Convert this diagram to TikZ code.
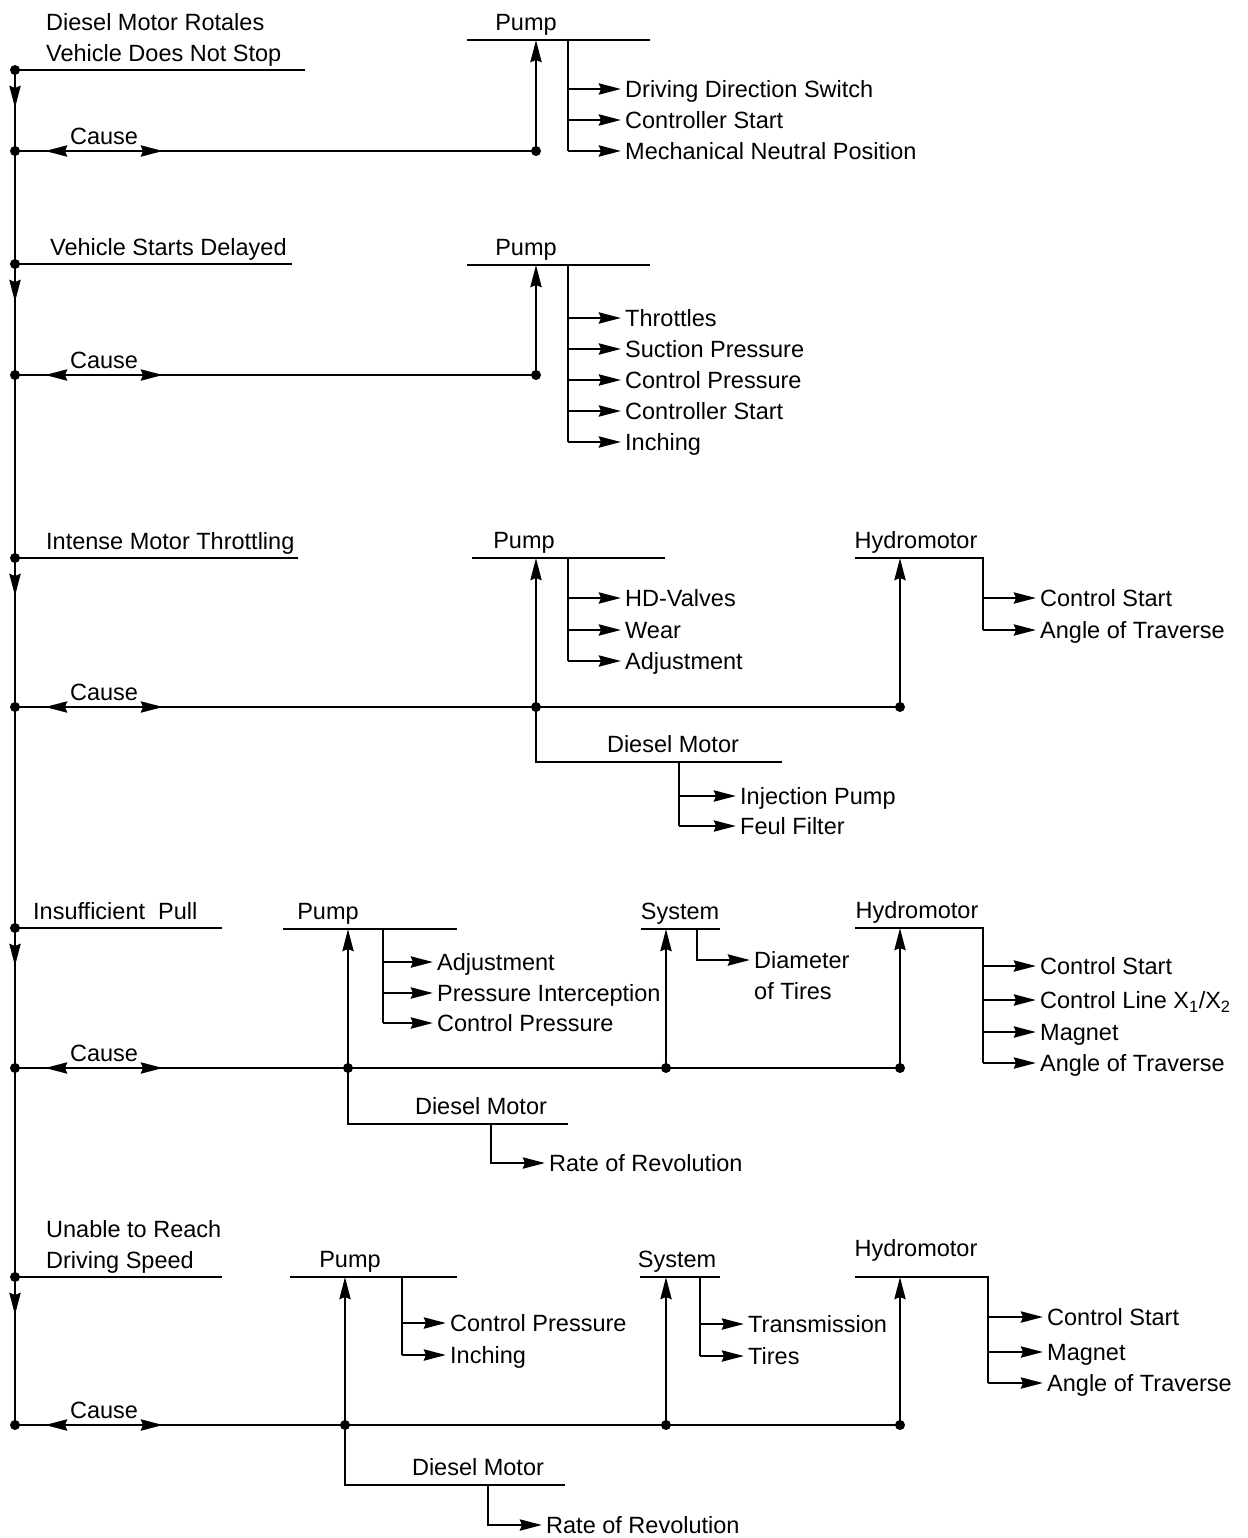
\documentclass[tikz,border=0pt]{standalone}
\usepackage{fontspec}
\setmainfont{Liberation Sans}
\usetikzlibrary{arrows.meta, positioning, decorations.markings}
\tikzset{
  >={Stealth[length=22pt, width=11pt, inset=2pt]},
  wire/.style={line width=2.8pt},
  arrow/.style={wire, ->},
  downline/.style={wire, postaction={decorate}, decoration={markings, mark=at position 38pt with {\arrow{>}}}},
  causeline/.style={wire, postaction={decorate}, decoration={markings, mark=at position 30pt with {\arrowreversed{>}}, mark=at position 148pt with {\arrow{>}}}},
  dot/.style={circle, fill=black, inner sep=0pt, minimum size=10pt},
  txt/.style={text height=17pt, text depth=0pt},
  problem/.style={txt, anchor=south west, inner xsep=0pt, inner ysep=8pt},
  headtext/.style={txt, anchor=south, inner xsep=0pt, inner ysep=9pt},
  causetext/.style={txt, anchor=south, inner xsep=0pt, inner ysep=6.5pt},
  item/.style={txt, anchor=west, inner xsep=4pt, inner ysep=0pt}
}
\begin{document}
\begin{tikzpicture}[x=1pt, y=-1pt, every node/.style={font=\fontsize{23.5}{31}\selectfont}]
\useasboundingbox (0,0) rectangle (1247,1538);

% Diesel Motor Rotales
\node (s1) [dot] at (15,70) {};
\node (c1) [dot] at (15,151) {};
\node (dp1) [dot] at (536,151) {};
\node (prob1) [problem] at (46,70) {\begin{tabular}[b]{@{}l@{}}Diesel Motor Rotales\\Vehicle Does Not Stop\end{tabular}};
\node (cause1) [causetext] at (104,151) {Cause};
\node (pump1) [headtext] at (526,40) {Pump};
\coordinate (b1) at (568,40);
\node (i11) [item] at (621,89) {Driving Direction Switch};
\node (i12) [item] at (621,120) {Controller Start};
\node (i13) [item] at (621,151) {Mechanical Neutral Position};

\draw [wire] (s1.center) -- (305,70);
\draw [downline] (s1.center) -- (c1.center);
\draw [causeline] (c1.center) -- (dp1.center);
\draw [arrow] (dp1.center) -- (dp1 |- b1);
\draw [wire] (467,40) -- (650,40);
\draw [wire] (b1) -- (b1 |- i13);
\draw [arrow] (b1 |- i11) -- (i11);
\draw [arrow] (b1 |- i12) -- (i12);
\draw [arrow] (b1 |- i13) -- (i13);

% Vehicle Starts Delayed
\node (s2) [dot] at (15,264) {};
\node (c2) [dot] at (15,375) {};
\node (dp2) [dot] at (536,375) {};
\node (prob2) [problem] at (50,264) {Vehicle Starts Delayed};
\node (cause2) [causetext] at (104,375) {Cause};
\node (pump2) [headtext] at (526,265) {Pump};
\coordinate (b2) at (568,265);
\node (i21) [item] at (621,318) {Throttles};
\node (i22) [item] at (621,349) {Suction Pressure};
\node (i23) [item] at (621,380) {Control Pressure};
\node (i24) [item] at (621,411) {Controller Start};
\node (i25) [item] at (621,442) {Inching};

\draw [wire] (c1.center) -- (s2.center);
\draw [wire] (s2.center) -- (292,264);
\draw [downline] (s2.center) -- (c2.center);
\draw [causeline] (c2.center) -- (dp2.center);
\draw [arrow] (dp2.center) -- (dp2 |- b2);
\draw [wire] (467,265) -- (650,265);
\draw [wire] (b2) -- (b2 |- i25);
\draw [arrow] (b2 |- i21) -- (i21);
\draw [arrow] (b2 |- i22) -- (i22);
\draw [arrow] (b2 |- i23) -- (i23);
\draw [arrow] (b2 |- i24) -- (i24);
\draw [arrow] (b2 |- i25) -- (i25);

% Intense Motor Throttling
\node (s3) [dot] at (15,558) {};
\node (c3) [dot] at (15,707) {};
\node (dp3) [dot] at (536,707) {};
\node (dh3) [dot] at (900,707) {};
\node (prob3) [problem] at (46,558) {Intense Motor Throttling};
\node (cause3) [causetext] at (104,707) {Cause};
\node (pump3) [headtext] at (524,558) {Pump};
\coordinate (b3) at (568,558);
\node (i31) [item] at (621,598) {HD-Valves};
\node (i32) [item] at (621,630) {Wear};
\node (i33) [item] at (621,661) {Adjustment};
\node (diesel3) [headtext] at (673,762) {Diesel Motor};
\coordinate (b3d) at (679,762);
\node (i3d1) [item] at (736,796) {Injection Pump};
\node (i3d2) [item] at (736,826) {Feul Filter};
\node (hydro3) [headtext] at (916,558) {Hydromotor};
\coordinate (b3h) at (983,558);
\node (i3h1) [item] at (1036,598) {Control Start};
\node (i3h2) [item] at (1036,630) {Angle of Traverse};

\draw [wire] (c2.center) -- (s3.center);
\draw [wire] (s3.center) -- (298,558);
\draw [downline] (s3.center) -- (c3.center);
\draw [causeline] (c3.center) -- (dh3.center);
\draw [arrow] (dp3.center) -- (dp3 |- b3);
\draw [wire] (472,558) -- (665,558);
\draw [wire] (b3) -- (b3 |- i33);
\draw [arrow] (b3 |- i31) -- (i31);
\draw [arrow] (b3 |- i32) -- (i32);
\draw [arrow] (b3 |- i33) -- (i33);
\draw [wire] (dp3.center) |- (782,762);
\draw [wire] (b3d) -- (b3d |- i3d2);
\draw [arrow] (b3d |- i3d1) -- (i3d1);
\draw [arrow] (b3d |- i3d2) -- (i3d2);
\draw [arrow] (dh3.center) -- (dh3 |- b3h);
\draw [wire] (855,558) -- (b3h) -- (b3h |- i3h2);
\draw [arrow] (b3h |- i3h1) -- (i3h1);
\draw [arrow] (b3h |- i3h2) -- (i3h2);

% Insufficient Pull
\node (s4) [dot] at (15,928) {};
\node (c4) [dot] at (15,1068) {};
\node (dp4) [dot] at (348,1068) {};
\node (ds4) [dot] at (666,1068) {};
\node (dh4) [dot] at (900,1068) {};
\node (prob4) [problem] at (33,928) {Insufficient\ \ Pull};
\node (cause4) [causetext] at (104,1068) {Cause};
\node (pump4) [headtext] at (328,929) {Pump};
\coordinate (b4) at (383,929);
\node (i41) [item] at (433,962) {Adjustment};
\node (i42) [item] at (433,993) {Pressure Interception};
\node (i43) [item] at (433,1023) {Control Pressure};
\node (diesel4) [headtext] at (481,1124) {Diesel Motor};
\coordinate (b4d) at (491,1124);
\node (i4d1) [item] at (545,1163) {Rate of Revolution};
\node (system4) [headtext] at (680,929) {System};
\coordinate (b4s) at (697,929);
\node (i4s1) [item] at (750,960) {\begin{tabular}[t]{@{}l@{}}Diameter\\of Tires\end{tabular}};
\node (hydro4) [headtext] at (917,928) {Hydromotor};
\coordinate (b4h) at (983,928);
\node (i4h1) [item] at (1036,966) {Control Start};
\node (i4h2) [item] at (1036,1000) {Control Line X\textsubscript{1}/X\textsubscript{2}};
\node (i4h3) [item] at (1036,1032) {Magnet};
\node (i4h4) [item] at (1036,1063) {Angle of Traverse};

\draw [wire] (c3.center) -- (s4.center);
\draw [wire] (s4.center) -- (222,928);
\draw [downline] (s4.center) -- (c4.center);
\draw [causeline] (c4.center) -- (dh4.center);
\draw [arrow] (dp4.center) -- (dp4 |- b4);
\draw [wire] (283,929) -- (457,929);
\draw [wire] (b4) -- (b4 |- i43);
\draw [arrow] (b4 |- i41) -- (i41);
\draw [arrow] (b4 |- i42) -- (i42);
\draw [arrow] (b4 |- i43) -- (i43);
\draw [wire] (dp4.center) |- (568,1124);
\draw [arrow] (b4d) |- (i4d1);
\draw [arrow] (ds4.center) -- (ds4 |- b4s);
\draw [wire] (641,929) -- (720,929);
\draw [arrow] (b4s) |- (i4s1);
\draw [arrow] (dh4.center) -- (dh4 |- b4h);
\draw [wire] (855,928) -- (b4h) -- (b4h |- i4h4);
\draw [arrow] (b4h |- i4h1) -- (i4h1);
\draw [arrow] (b4h |- i4h2) -- (i4h2);
\draw [arrow] (b4h |- i4h3) -- (i4h3);
\draw [arrow] (b4h |- i4h4) -- (i4h4);

% Unable to Reach Driving Speed
\node (s5) [dot] at (15,1277) {};
\node (c5) [dot] at (15,1425) {};
\node (dp5) [dot] at (345,1425) {};
\node (ds5) [dot] at (666,1425) {};
\node (dh5) [dot] at (900,1425) {};
\node (prob5) [problem] at (46,1277) {\begin{tabular}[b]{@{}l@{}}Unable to Reach\\Driving Speed\end{tabular}};
\node (cause5) [causetext] at (104,1425) {Cause};
\node (pump5) [headtext] at (350,1277) {Pump};
\coordinate (b5) at (402,1277);
\node (i51) [item] at (446,1323) {Control Pressure};
\node (i52) [item] at (446,1355) {Inching};
\node (diesel5) [headtext] at (478,1485) {Diesel Motor};
\coordinate (b5d) at (488,1485);
\node (i5d1) [item] at (542,1525) {Rate of Revolution};
\node (system5) [headtext] at (677,1277) {System};
\coordinate (b5s) at (700,1277);
\node (i5s1) [item] at (744,1324) {Transmission};
\node (i5s2) [item] at (744,1356) {Tires};
\node (hydro5) [headtext, inner ysep=20pt] at (916,1277) {Hydromotor};
\coordinate (b5h) at (988,1277);
\node (i5h1) [item] at (1043,1317) {Control Start};
\node (i5h2) [item] at (1043,1352) {Magnet};
\node (i5h3) [item] at (1043,1383) {Angle of Traverse};

\draw [wire] (c4.center) -- (s5.center);
\draw [wire] (s5.center) -- (222,1277);
\draw [downline] (s5.center) -- (c5.center);
\draw [causeline] (c5.center) -- (dh5.center);
\draw [arrow] (dp5.center) -- (dp5 |- b5);
\draw [wire] (290,1277) -- (457,1277);
\draw [wire] (b5) -- (b5 |- i52);
\draw [arrow] (b5 |- i51) -- (i51);
\draw [arrow] (b5 |- i52) -- (i52);
\draw [wire] (dp5.center) |- (565,1485);
\draw [arrow] (b5d) |- (i5d1);
\draw [arrow] (ds5.center) -- (ds5 |- b5s);
\draw [wire] (640,1277) -- (720,1277);
\draw [wire] (b5s) -- (b5s |- i5s2);
\draw [arrow] (b5s |- i5s1) -- (i5s1);
\draw [arrow] (b5s |- i5s2) -- (i5s2);
\draw [arrow] (dh5.center) -- (dh5 |- b5h);
\draw [wire] (855,1277) -- (b5h) -- (b5h |- i5h3);
\draw [arrow] (b5h |- i5h1) -- (i5h1);
\draw [arrow] (b5h |- i5h2) -- (i5h2);
\draw [arrow] (b5h |- i5h3) -- (i5h3);

\end{tikzpicture}
\end{document}
